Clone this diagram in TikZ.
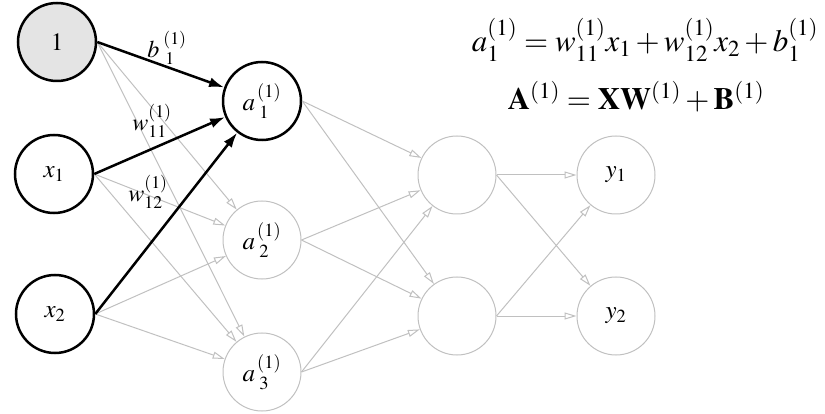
\documentclass[tikz,border=0pt]{standalone}
\usepackage{mathptmx}
\usetikzlibrary{arrows.meta, positioning}
\definecolor{biasfill}{RGB}{228,228,228}
\definecolor{faded}{RGB}{192,192,192}

\begin{document}
\begin{tikzpicture}[
    x=1pt, y=-1pt,
    node distance=62pt,
    neuron/.style={circle, minimum size=78pt, inner sep=0pt,
                   font=\fontsize{25}{29}\selectfont},
    active/.style={neuron, draw=black, line width=2.5pt},
    idle/.style={neuron, draw=faded, line width=1pt},
    strong/.style={-{Latex[length=15pt, width=10pt]}, line width=2.5pt},
    weak/.style={-{Triangle[open, length=12pt, width=7pt]}, draw=faded, line width=1pt},
    wlabel/.style={font=\fontsize{24}{28}\selectfont, inner sep=1pt},
    formula/.style={font=\fontsize{31}{36}\selectfont, inner sep=0pt},
]
\useasboundingbox (0,0) rectangle (825,414);

% input layer
\node[active, fill=biasfill] (bias) at (57,42) {$1$};
\node[active] (x1) at (54,174) {$x_1$};
\node[active] (x2) at (55,314) {$x_2$};

% first hidden layer
\node[active] (a1) at (262,101) {$a^{\,(1)}_{\;1}$};
\node[idle] (a2) at (262,240) {$a^{\,(1)}_{\;2}$};
\node[idle] (a3) at (262,372) {$a^{\,(1)}_{\;3}$};

% second hidden layer and output
\node[idle] (h1) at (457,175) {};
\node[idle, below=of h1] (h2) {};
\node[idle] (y1) at (616,175) {$y_1$};
\node[idle, below=of y1] (y2) {$y_2$};

% faded connections
\foreach \s in {bias, x1, x2}
    \foreach \t in {a2, a3}
        \draw[weak] (\s.east) -- (\t);
\foreach \s in {a1, a2, a3}
    \foreach \t in {h1, h2}
        \draw[weak] (\s.east) -- (\t);
\foreach \s in {h1, h2}
    \foreach \t in {y1, y2}
        \draw[weak] (\s.east) -- (\t);

% weights into a_1
\draw[strong] (bias.east) -- (a1);
\draw[strong] (x1.east) -- (a1);
\draw[strong] (x2.east) -- (a1);

\node[wlabel] (b11) at (167,48) {$b^{\;(1)}_{\;\,1}$};
\node[wlabel] (w11) at (152,121) {$w^{(1)}_{11}$};
\node[wlabel] (w12) at (148,192) {$w^{(1)}_{12}$};

% formulas
\node[formula] (eq1) at (645,40)
    {$a^{(1)}_1 = w^{(1)}_{11}x_1 + w^{(1)}_{12}x_2 + b^{(1)}_1$};
\node[formula] (eq2) at (636,97)
    {$\mathbf{A}^{(1)} = \mathbf{X}\mathbf{W}^{(1)} + \mathbf{B}^{(1)}$};
\end{tikzpicture}
\end{document}
